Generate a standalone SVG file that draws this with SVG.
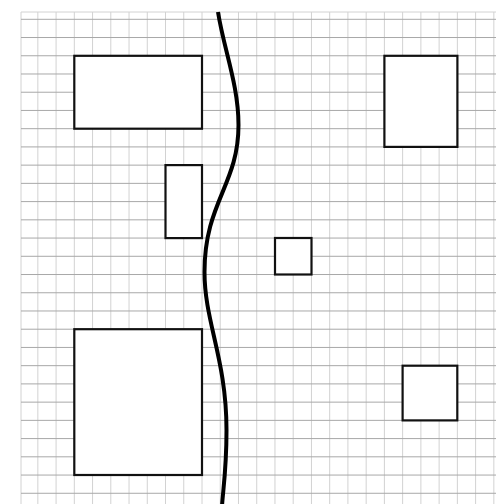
<svg xmlns="http://www.w3.org/2000/svg" width="496" height="504" viewBox="0 0 496 504">
<style>
.vg{stroke:#d2d2d2;stroke-width:1;fill:none}
.hg{stroke:#a8a8a8;stroke-width:1;fill:none}
.box{fill:#fff;stroke:#111;stroke-width:2.2}
.wall{fill:none;stroke:#000;stroke-width:4;stroke-linecap:butt}
</style>
<rect width="496" height="504" fill="#fff"/>
<g id="grid">
<path class="vg" d="M21,12V504M37.84,12V504M56.08,12V504M74.32,12V504M92.56,12V504M110.8,12V504M129.04,12V504M147.28,12V504M165.52,12V504M183.76,12V504M202,12V504M220.24,12V504M238.48,12V504M256.72,12V504M274.96,12V504M293.2,12V504M311.44,12V504M329.68,12V504M347.92,12V504M366.16,12V504M384.4,12V504M402.64,12V504M420.88,12V504M439.12,12V504M457.36,12V504M475.6,12V504M493.84,12V504"/>
<path class="vg" d="M21,12H496"/>
<path class="hg" d="M21,19.3H496M21,37.53H496M21,55.76H496M21,73.99H496M21,92.22H496M21,110.45H496M21,128.68H496M21,146.91H496M21,165.14H496M21,183.37H496M21,201.6H496M21,219.83H496M21,238.06H496M21,256.29H496M21,274.52H496M21,292.75H496M21,310.98H496M21,329.21H496M21,347.44H496M21,365.67H496M21,383.9H496M21,402.13H496M21,420.36H496M21,438.59H496M21,456.82H496M21,475.05H496M21,493.28H496"/>
</g>
<g id="r1"><rect class="box" x="74.3" y="55.8" width="127.7" height="72.9"/></g>
<g id="r2"><rect class="box" x="384.4" y="55.8" width="73" height="91.1"/></g>
<g id="r3"><rect class="box" x="165.5" y="165.1" width="36.5" height="73"/></g>
<g id="r4"><rect class="box" x="275" y="238" width="36.5" height="36.5"/></g>
<g id="r5"><rect class="box" x="74.3" y="329.2" width="127.7" height="145.8"/></g>
<g id="r6"><rect class="box" x="402.6" y="365.7" width="54.7" height="54.7"/></g>
<g id="connectors">
<path class="wall" d="M218,12 C224,50 238.5,85 238.5,125 C238.5,185 204.5,202 204.5,272 C204.5,322 226.5,359 226.5,430 C226.5,470 223,490 222,506"/>
</g>
</svg>
